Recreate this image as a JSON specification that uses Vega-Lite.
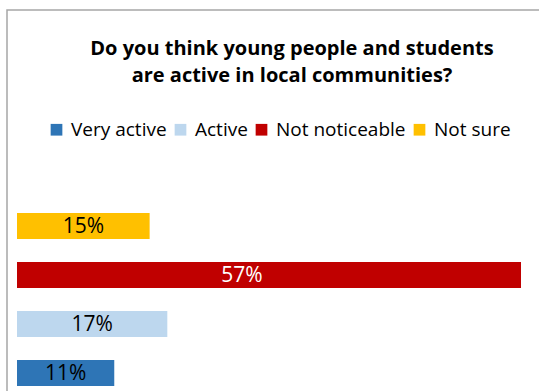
{
  "$schema": "https://vega.github.io/schema/vega-lite/v6.json",
  "autosize": {"type": "none"},
  "padding": {"left": 7, "top": 10, "right": 0, "bottom": 0},
  "width": 540,
  "height": 390,
  "background": "white",
  "config": {
    "view": {"stroke": "#a6a6a6", "strokeWidth": 1.5},
    "font": "Open Sans"
  },
  "title": {
    "text": ["Do you think young people and students", "are active in local communities?"],
    "font": "Open Sans",
    "fontWeight": "bold",
    "fontSize": 20,
    "color": "#000000",
    "anchor": "middle",
    "frame": "group",
    "dx": 15,
    "orient": "top",
    "baseline": "alphabetic",
    "lineHeight": 27,
    "offset": -92
  },
  "data": {
    "values": [
      {"category": "Not sure", "value": 15, "label": "15%"},
      {"category": "Not noticeable", "value": 57, "label": "57%"},
      {"category": "Active", "value": 17, "label": "17%"},
      {"category": "Very active", "value": 11, "label": "11%"}
    ]
  },
  "layer": [
    {
      "mark": {"type": "bar"},
      "encoding": {
        "y": {
          "field": "category",
          "type": "nominal",
          "sort": ["Not sure", "Not noticeable", "Active", "Very active"],
          "scale": {"range": [203, 376], "paddingInner": 0.469, "paddingOuter": 0},
          "axis": null
        },
        "x": {
          "field": "value",
          "type": "quantitative",
          "scale": {"domain": [0, 57], "range": [10, 514], "nice": false, "zero": true},
          "axis": null
        },
        "color": {
          "field": "category",
          "type": "nominal",
          "scale": {
            "domain": ["Very active", "Active", "Not noticeable", "Not sure"],
            "range": ["#2E75B6", "#BDD7EE", "#C00000", "#FFC000"]
          },
          "legend": {
            "title": null,
            "orient": "none",
            "legendX": 40,
            "legendY": 110,
            "direction": "horizontal",
            "symbolType": "square",
            "symbolSize": 137,
            "symbolStrokeWidth": 0,
            "labelFontSize": 19,
            "labelFont": "Open Sans",
            "labelColor": "#000000",
            "labelOffset": 5,
            "columnPadding": 4,
            "labelLimit": 300
          }
        }
      }
    },
    {
      "transform": [{"filter": "datum.category !== 'Not noticeable'"}],
      "mark": {"type": "text", "fontSize": 21, "font": "Open Sans", "baseline": "middle", "align": "center", "dy": 1, "color": "#000000"},
      "encoding": {
        "y": {
          "field": "category",
          "type": "nominal",
          "sort": ["Not sure", "Not noticeable", "Active", "Very active"],
          "scale": {"domain": ["Not sure", "Not noticeable", "Active", "Very active"], "range": [203, 376], "paddingInner": 0.469, "paddingOuter": 0},
          "axis": null
        },
        "x": {
          "field": "value",
          "type": "quantitative",
          "scale": {"domain": [0, 57], "range": [10, 262], "nice": false, "zero": true},
          "axis": null
        },
        "text": {"field": "label", "type": "nominal"}
      }
    },
    {
      "transform": [{"filter": "datum.category === 'Not noticeable'"}],
      "mark": {"type": "text", "fontSize": 21, "font": "Open Sans", "baseline": "middle", "align": "center", "dy": 1, "dx": -27, "color": "#ffffff"},
      "encoding": {
        "y": {
          "field": "category",
          "type": "nominal",
          "sort": ["Not sure", "Not noticeable", "Active", "Very active"],
          "scale": {"domain": ["Not sure", "Not noticeable", "Active", "Very active"], "range": [203, 376], "paddingInner": 0.469, "paddingOuter": 0},
          "axis": null
        },
        "x": {
          "field": "value",
          "type": "quantitative",
          "scale": {"domain": [0, 57], "range": [10, 262], "nice": false, "zero": true},
          "axis": null
        },
        "text": {"field": "label", "type": "nominal"}
      }
    }
  ],
  "resolve": {"scale": {"x": "independent", "color": "independent"}}
}
